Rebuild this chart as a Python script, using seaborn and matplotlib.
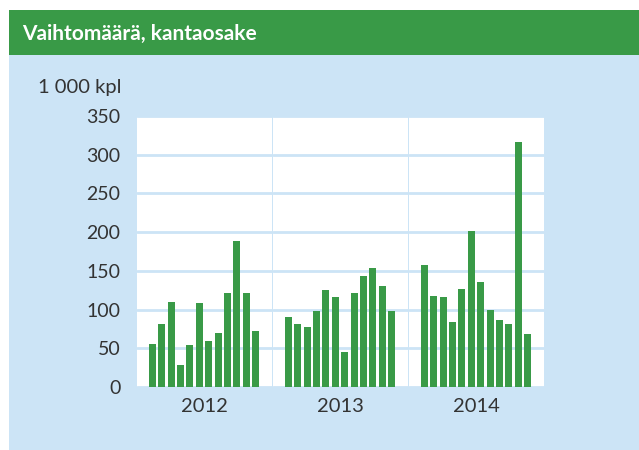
import matplotlib
matplotlib.use("Agg")
import matplotlib.pyplot as plt
import seaborn as sns
from matplotlib.patches import Rectangle

# monthly trading volume, 1 000 shares
years = ["2012", "2013", "2014"]
months = list(range(1, 13))
vol_2012 = [55, 81, 110, 28, 54, 109, 60, 70, 122, 188, 121, 72]
vol_2013 = [91, 82, 77, 98, 125, 116, 45, 121, 144, 154, 130, 98]
vol_2014 = [157, 118, 116, 84, 126, 202, 135, 100, 86, 81, 316, 68]
y_ticks = [0, 50, 100, 150, 200, 250, 300, 350]

GREEN = "#399a47"
LIGHT = "#cce4f6"
TEXT = "#333333"

sns.set_theme(style="white")
plt.rcParams["font.family"] = ["Lato", "DejaVu Sans"]

W, H = 639, 450
fig = plt.figure(figsize=(W / 100, H / 100), dpi=100)
fig.patch.set_facecolor("white")

# background card and header band
fig.add_artist(Rectangle((9 / W, 0), 1, (H - 10) / H, transform=fig.transFigure,
                         facecolor=LIGHT, edgecolor="none", zorder=0))
fig.add_artist(Rectangle((9 / W, (H - 55) / H), 1, 45 / H, transform=fig.transFigure,
                         facecolor=GREEN, edgecolor="none", zorder=0))
fig.text(22 / W, (H - 39.5) / H, "Vaihtomäärä, kantaosake", color="white",
         fontsize=15, fontweight="bold", va="baseline", ha="left")
fig.text(121 / W, (H - 92.5) / H, "1 000 kpl", color=TEXT, fontsize=14.5,
         va="baseline", ha="right")

data = [vol_2012, vol_2013, vol_2014]
lefts = [137, 273, 409]
pw = 135
bottom = (H - 387) / H
height = (387 - 116) / H

for i, (yr, vals) in enumerate(zip(years, data)):
    ax = fig.add_axes([lefts[i] / W, bottom, pw / W, height])
    ax.set_facecolor("white")
    sns.barplot(x=months, y=vals, color=GREEN, saturation=1, width=0.75,
                linewidth=0, ax=ax, zorder=3)
    ax.set_xlim(-1.65, 12.75)
    ax.set_ylim(0, 350)
    ax.set_yticks(y_ticks)
    ax.yaxis.grid(True, color=LIGHT, lw=2)
    ax.set_axisbelow(True)
    ax.set_xticks([])
    ax.set_xlabel(yr, color=TEXT, fontsize=14.5, labelpad=8)
    ax.set_ylabel("")
    for s in ax.spines.values():
        s.set_visible(False)
    ax.tick_params(axis="y", length=0, pad=12, labelsize=14, colors=TEXT)
    if i > 0:
        ax.set_yticklabels([])

fig.savefig("out.png", dpi=100)
